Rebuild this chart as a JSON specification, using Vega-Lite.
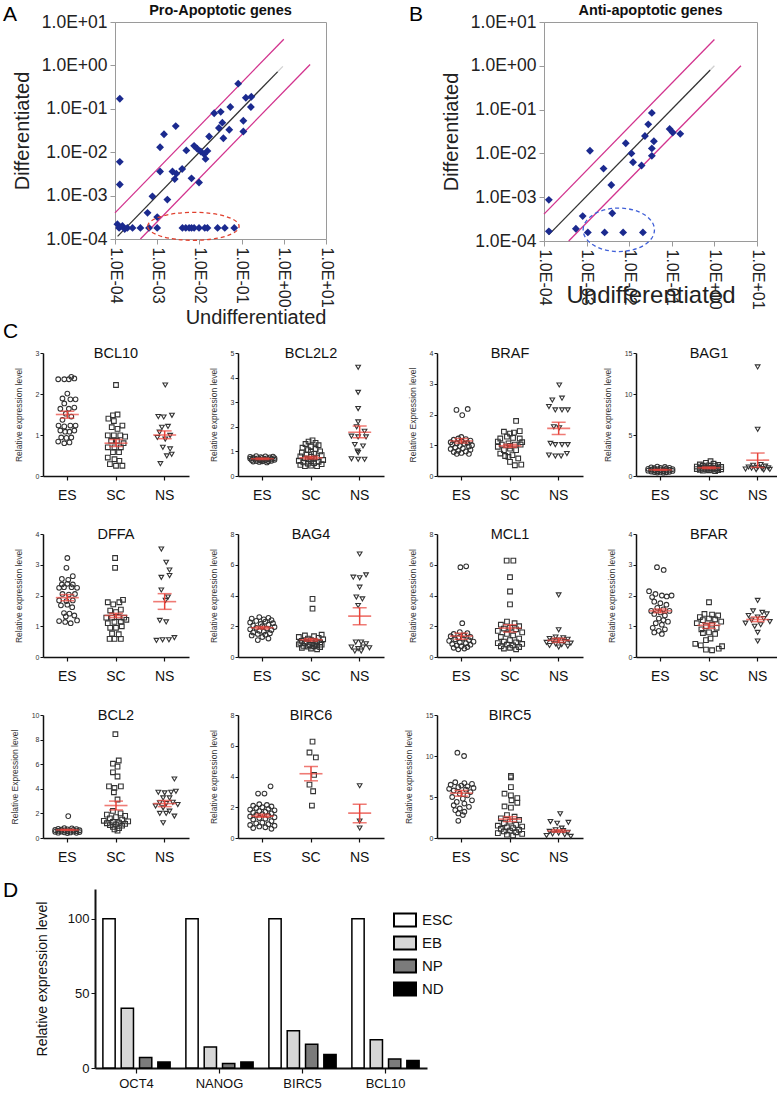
{
"$schema": "https://vega.github.io/schema/vega-lite/v6.json",
"padding": {"left": 3, "top": 2, "right": 2, "bottom": 1},
"background": "white",
"datasets": {
"a_pts": [
{"x":0.00013,"y":0.17},{"x":0.00013,"y":0.006},{"x":0.00013,"y":0.0018},
{"x":0.000114,"y":0.00022},{"x":0.000125,"y":0.00018},{"x":0.00015,"y":0.0002},{"x":0.00017,"y":0.00017},{"x":0.000196,"y":0.00018},{"x":0.00026,"y":0.00018},{"x":0.0004,"y":0.00018},{"x":0.00064,"y":0.00018},{"x":0.001,"y":0.00018},
{"x":0.00059,"y":0.0004},{"x":0.00077,"y":0.00096},{"x":0.001,"y":0.00032},{"x":0.00117,"y":0.013},{"x":0.00117,"y":0.0036},{"x":0.00145,"y":0.026},{"x":0.00174,"y":0.00081},{"x":0.0023,"y":0.0036},{"x":0.0026,"y":0.0024},{"x":0.00285,"y":0.0032},{"x":0.00275,"y":0.04},{"x":0.0039,"y":0.0041},{"x":0.0049,"y":0.011},{"x":0.0065,"y":0.0025},{"x":0.0075,"y":0.014},{"x":0.0089,"y":0.012},{"x":0.0098,"y":0.002},{"x":0.0108,"y":0.0104},{"x":0.013,"y":0.009},{"x":0.014,"y":0.007},{"x":0.0155,"y":0.0107},{"x":0.017,"y":0.023},{"x":0.0224,"y":0.079},{"x":0.032,"y":0.085},{"x":0.029,"y":0.036},{"x":0.035,"y":0.048},{"x":0.037,"y":0.021},{"x":0.054,"y":0.11},{"x":0.051,"y":0.033},{"x":0.083,"y":0.38},{"x":0.11,"y":0.053},{"x":0.11,"y":0.03},{"x":0.126,"y":0.18},{"x":0.166,"y":0.11},{"x":0.17,"y":0.19},
{"x":0.00396,"y":0.00018},{"x":0.00475,"y":0.00018},{"x":0.0057,"y":0.00018},{"x":0.0065,"y":0.00018},{"x":0.0075,"y":0.00018},{"x":0.0098,"y":0.00018},{"x":0.0134,"y":0.00018},{"x":0.0155,"y":0.00018},{"x":0.027,"y":0.00018},{"x":0.04,"y":0.00018},{"x":0.067,"y":0.00018}
],
"a_lines": [
{"x":0.0001,"y":0.0004,"k":"hi"},{"x":1,"y":4,"k":"hi"},
{"x":0.0004,"y":0.0001,"k":"lo"},{"x":4.2,"y":1.05,"k":"lo"},
{"x":0.000115,"y":0.000115,"k":"mid"},{"x":0.72,"y":0.72,"k":"mid"},
{"x":0.72,"y":0.72,"k":"ext"},{"x":0.95,"y":0.95,"k":"ext"}
],
"a_ell": [{"x":0.0072,"y":0.000196}],
"b_pts": [
{"x":0.00013,"y":0.00087},{"x":0.00013,"y":0.000166},{"x":0.00081,"y":0.00037},{"x":0.00056,"y":0.00019},{"x":0.00107,"y":0.000157},{"x":0.0012,"y":0.0115},{"x":0.0025,"y":0.0045},{"x":0.00265,"y":0.000157},{"x":0.0038,"y":0.0019},{"x":0.004,"y":0.00043},{"x":0.0072,"y":0.000157},{"x":0.0083,"y":0.017},{"x":0.0113,"y":0.01},{"x":0.0123,"y":0.0063},{"x":0.0195,"y":0.0053},{"x":0.021,"y":0.000157},{"x":0.0234,"y":0.025},{"x":0.028,"y":0.046},{"x":0.034,"y":0.084},{"x":0.034,"y":0.013},{"x":0.034,"y":0.0088},{"x":0.038,"y":0.019},{"x":0.089,"y":0.036},{"x":0.105,"y":0.03},{"x":0.158,"y":0.028}
],
"b_lines": [
{"x":0.0001,"y":0.00041,"k":"hi"},{"x":1,"y":4,"k":"hi"},
{"x":0.00038,"y":0.0001,"k":"lo"},{"x":4.2,"y":1.0,"k":"lo"},
{"x":0.00013,"y":0.00014,"k":"mid"},{"x":0.8,"y":0.8,"k":"mid"},
{"x":0.8,"y":0.8,"k":"ext"},{"x":1,"y":1,"k":"ext"}
],
"b_ell": [{"x":0.0057,"y":0.00018}],
"d": [
{"gene":"OCT4","cell":"ESC","val":100},{"gene":"OCT4","cell":"EB","val":40},{"gene":"OCT4","cell":"NP","val":7},{"gene":"OCT4","cell":"ND","val":4},
{"gene":"NANOG","cell":"ESC","val":100},{"gene":"NANOG","cell":"EB","val":14},{"gene":"NANOG","cell":"NP","val":3},{"gene":"NANOG","cell":"ND","val":4},
{"gene":"BIRC5","cell":"ESC","val":100},{"gene":"BIRC5","cell":"EB","val":25},{"gene":"BIRC5","cell":"NP","val":16},{"gene":"BIRC5","cell":"ND","val":9},
{"gene":"BCL10","cell":"ESC","val":100},{"gene":"BCL10","cell":"EB","val":19},{"gene":"BCL10","cell":"NP","val":6},{"gene":"BCL10","cell":"ND","val":5}
],
"c": [
{"g":"BCL10","s":"ES","v":2.36,"j":-3},{"g":"BCL10","s":"ES","v":2.36,"j":-1},{"g":"BCL10","s":"ES","v":2.36,"j":0.5},{"g":"BCL10","s":"ES","v":2.38,"j":2.3},{"g":"BCL10","s":"ES","v":2.42,"j":1.3},{"g":"BCL10","s":"ES","v":2.01,"j":0},{"g":"BCL10","s":"ES","v":1.89,"j":-1.6},{"g":"BCL10","s":"ES","v":1.87,"j":1},{"g":"BCL10","s":"ES","v":1.87,"j":2.7},{"g":"BCL10","s":"ES","v":1.77,"j":-1},{"g":"BCL10","s":"ES","v":1.64,"j":-2.3},{"g":"BCL10","s":"ES","v":1.64,"j":0.5},{"g":"BCL10","s":"ES","v":1.67,"j":2.3},{"g":"BCL10","s":"ES","v":1.52,"j":-0.5},{"g":"BCL10","s":"ES","v":1.45,"j":1.3},{"g":"BCL10","s":"ES","v":1.37,"j":-1.6},{"g":"BCL10","s":"ES","v":1.23,"j":-2.9},{"g":"BCL10","s":"ES","v":1.21,"j":-1},{"g":"BCL10","s":"ES","v":1.23,"j":1},{"g":"BCL10","s":"ES","v":1.23,"j":2.7},{"g":"BCL10","s":"ES","v":1.11,"j":-2.3},{"g":"BCL10","s":"ES","v":1.08,"j":-0.7},{"g":"BCL10","s":"ES","v":1.08,"j":0.7},{"g":"BCL10","s":"ES","v":1.11,"j":2.3},{"g":"BCL10","s":"ES","v":0.94,"j":-2},{"g":"BCL10","s":"ES","v":0.93,"j":-0.3},{"g":"BCL10","s":"ES","v":0.94,"j":1.3},{"g":"BCL10","s":"ES","v":0.84,"j":-3},{"g":"BCL10","s":"ES","v":0.8,"j":-1},{"g":"BCL10","s":"ES","v":0.82,"j":0.7},
{"g":"BCL10","s":"SC","v":2.22,"j":0},{"g":"BCL10","s":"SC","v":1.48,"j":-1},{"g":"BCL10","s":"SC","v":1.5,"j":0.5},{"g":"BCL10","s":"SC","v":1.4,"j":-2.5},{"g":"BCL10","s":"SC","v":1.34,"j":-0.7},{"g":"BCL10","s":"SC","v":1.19,"j":-1.4},{"g":"BCL10","s":"SC","v":1.23,"j":2.1},{"g":"BCL10","s":"SC","v":1.15,"j":0.5},{"g":"BCL10","s":"SC","v":0.99,"j":-2.7},{"g":"BCL10","s":"SC","v":0.99,"j":-0.7},{"g":"BCL10","s":"SC","v":0.99,"j":1.4},{"g":"BCL10","s":"SC","v":0.96,"j":3},{"g":"BCL10","s":"SC","v":0.86,"j":-1.6},{"g":"BCL10","s":"SC","v":0.86,"j":0.3},{"g":"BCL10","s":"SC","v":0.8,"j":2.5},{"g":"BCL10","s":"SC","v":0.7,"j":-2.7},{"g":"BCL10","s":"SC","v":0.7,"j":-0.5},{"g":"BCL10","s":"SC","v":0.7,"j":1.6},{"g":"BCL10","s":"SC","v":0.58,"j":-1},{"g":"BCL10","s":"SC","v":0.58,"j":1},{"g":"BCL10","s":"SC","v":0.45,"j":-2.7},{"g":"BCL10","s":"SC","v":0.41,"j":-0.5},{"g":"BCL10","s":"SC","v":0.37,"j":1.1},{"g":"BCL10","s":"SC","v":0.29,"j":-2},{"g":"BCL10","s":"SC","v":0.25,"j":0},{"g":"BCL10","s":"SC","v":0.25,"j":2.1},
{"g":"BCL10","s":"NS","v":2.22,"j":0.2},{"g":"BCL10","s":"NS","v":1.45,"j":-2.1},{"g":"BCL10","s":"NS","v":1.44,"j":-0.3},{"g":"BCL10","s":"NS","v":1.48,"j":2.4},{"g":"BCL10","s":"NS","v":1.19,"j":-0.9},{"g":"BCL10","s":"NS","v":1.21,"j":1.1},{"g":"BCL10","s":"NS","v":1.07,"j":-1.7},{"g":"BCL10","s":"NS","v":0.99,"j":1.8},{"g":"BCL10","s":"NS","v":0.94,"j":-2.4},{"g":"BCL10","s":"NS","v":0.9,"j":0.2},{"g":"BCL10","s":"NS","v":0.7,"j":-0.6},{"g":"BCL10","s":"NS","v":0.66,"j":1.8},{"g":"BCL10","s":"NS","v":0.49,"j":0.7},{"g":"BCL10","s":"NS","v":0.53,"j":2.3},{"g":"BCL10","s":"NS","v":0.3,"j":-1.4},
{"g":"BCL10","s":"ES","v":1.5,"lo":1.41,"hi":1.58},{"g":"BCL10","s":"SC","v":0.8,"lo":0.72,"hi":0.89},{"g":"BCL10","s":"NS","v":1.0,"lo":0.91,"hi":1.1},
{"g":"BCL2L2","s":"ES","v":0.81,"j":-2},{"g":"BCL2L2","s":"ES","v":0.8,"j":1},{"g":"BCL2L2","s":"ES","v":0.79,"j":3.5},{"g":"BCL2L2","s":"ES","v":0.78,"j":-4},{"g":"BCL2L2","s":"ES","v":0.77,"j":-0.5},{"g":"BCL2L2","s":"ES","v":0.76,"j":2.5},{"g":"BCL2L2","s":"ES","v":0.75,"j":-3},{"g":"BCL2L2","s":"ES","v":0.74,"j":0},{"g":"BCL2L2","s":"ES","v":0.73,"j":4},{"g":"BCL2L2","s":"ES","v":0.72,"j":-1.5},{"g":"BCL2L2","s":"ES","v":0.72,"j":1.5},{"g":"BCL2L2","s":"ES","v":0.71,"j":-4},{"g":"BCL2L2","s":"ES","v":0.7,"j":3},{"g":"BCL2L2","s":"ES","v":0.7,"j":-2.5},{"g":"BCL2L2","s":"ES","v":0.69,"j":0.5},{"g":"BCL2L2","s":"ES","v":0.68,"j":2},{"g":"BCL2L2","s":"ES","v":0.67,"j":-1},{"g":"BCL2L2","s":"ES","v":0.66,"j":4},{"g":"BCL2L2","s":"ES","v":0.65,"j":-3.5},{"g":"BCL2L2","s":"ES","v":0.64,"j":1},{"g":"BCL2L2","s":"ES","v":0.63,"j":-0.5},{"g":"BCL2L2","s":"ES","v":0.62,"j":3},{"g":"BCL2L2","s":"ES","v":0.61,"j":-2},{"g":"BCL2L2","s":"ES","v":0.6,"j":0},{"g":"BCL2L2","s":"ES","v":0.6,"j":2},{"g":"BCL2L2","s":"ES","v":0.59,"j":-3},{"g":"BCL2L2","s":"ES","v":0.57,"j":-1},{"g":"BCL2L2","s":"ES","v":0.55,"j":1.5},
{"g":"BCL2L2","s":"SC","v":1.45,"j":0.5},{"g":"BCL2L2","s":"SC","v":1.4,"j":-0.8},{"g":"BCL2L2","s":"SC","v":1.35,"j":1.5},{"g":"BCL2L2","s":"SC","v":1.3,"j":-1.8},{"g":"BCL2L2","s":"SC","v":1.25,"j":2.5},{"g":"BCL2L2","s":"SC","v":1.2,"j":0},{"g":"BCL2L2","s":"SC","v":1.15,"j":-2.8},{"g":"BCL2L2","s":"SC","v":1.1,"j":1.5},{"g":"BCL2L2","s":"SC","v":1.05,"j":-1},{"g":"BCL2L2","s":"SC","v":1.0,"j":3},{"g":"BCL2L2","s":"SC","v":0.98,"j":0},{"g":"BCL2L2","s":"SC","v":0.95,"j":-3},{"g":"BCL2L2","s":"SC","v":0.9,"j":1},{"g":"BCL2L2","s":"SC","v":0.88,"j":-1.5},{"g":"BCL2L2","s":"SC","v":0.85,"j":3.5},{"g":"BCL2L2","s":"SC","v":0.8,"j":-3.5},{"g":"BCL2L2","s":"SC","v":0.78,"j":0},{"g":"BCL2L2","s":"SC","v":0.75,"j":2},{"g":"BCL2L2","s":"SC","v":0.72,"j":-2},{"g":"BCL2L2","s":"SC","v":0.7,"j":1},{"g":"BCL2L2","s":"SC","v":0.68,"j":-1},{"g":"BCL2L2","s":"SC","v":0.65,"j":4},{"g":"BCL2L2","s":"SC","v":0.62,"j":-4},{"g":"BCL2L2","s":"SC","v":0.6,"j":0},{"g":"BCL2L2","s":"SC","v":0.58,"j":2.5},{"g":"BCL2L2","s":"SC","v":0.55,"j":-2.5},{"g":"BCL2L2","s":"SC","v":0.52,"j":1},{"g":"BCL2L2","s":"SC","v":0.5,"j":-1},{"g":"BCL2L2","s":"SC","v":0.48,"j":3.5},{"g":"BCL2L2","s":"SC","v":0.45,"j":-3.5},{"g":"BCL2L2","s":"SC","v":0.42,"j":0},{"g":"BCL2L2","s":"SC","v":0.4,"j":2},{"g":"BCL2L2","s":"SC","v":0.4,"j":-2},
{"g":"BCL2L2","s":"NS","v":4.42,"j":-0.5},{"g":"BCL2L2","s":"NS","v":3.4,"j":-0.5},{"g":"BCL2L2","s":"NS","v":2.74,"j":-0.5},{"g":"BCL2L2","s":"NS","v":2.2,"j":-0.5},{"g":"BCL2L2","s":"NS","v":2.0,"j":-1},{"g":"BCL2L2","s":"NS","v":1.82,"j":1.6},{"g":"BCL2L2","s":"NS","v":1.62,"j":-2.7},{"g":"BCL2L2","s":"NS","v":1.59,"j":-0.5},{"g":"BCL2L2","s":"NS","v":1.59,"j":2.1},{"g":"BCL2L2","s":"NS","v":1.28,"j":-1.6},{"g":"BCL2L2","s":"NS","v":1.22,"j":1.1},{"g":"BCL2L2","s":"NS","v":1.01,"j":-0.7},{"g":"BCL2L2","s":"NS","v":0.95,"j":-0.5},{"g":"BCL2L2","s":"NS","v":0.7,"j":-2.7},{"g":"BCL2L2","s":"NS","v":0.68,"j":-0.5},{"g":"BCL2L2","s":"NS","v":0.68,"j":1.6},
{"g":"BCL2L2","s":"ES","v":0.7,"lo":0.67,"hi":0.73},{"g":"BCL2L2","s":"SC","v":0.74,"lo":0.69,"hi":0.8},{"g":"BCL2L2","s":"NS","v":1.78,"lo":1.55,"hi":2.03},
{"g":"BRAF","s":"ES","v":2.15,"j":-1.6},{"g":"BRAF","s":"ES","v":1.98,"j":0.3},{"g":"BRAF","s":"ES","v":2.18,"j":2.1},{"g":"BRAF","s":"ES","v":1.27,"j":0},{"g":"BRAF","s":"ES","v":1.22,"j":-1},{"g":"BRAF","s":"ES","v":1.2,"j":1.5},{"g":"BRAF","s":"ES","v":1.18,"j":-2.5},{"g":"BRAF","s":"ES","v":1.15,"j":3},{"g":"BRAF","s":"ES","v":1.13,"j":0},{"g":"BRAF","s":"ES","v":1.1,"j":-3.5},{"g":"BRAF","s":"ES","v":1.08,"j":2},{"g":"BRAF","s":"ES","v":1.06,"j":-1.5},{"g":"BRAF","s":"ES","v":1.05,"j":1},{"g":"BRAF","s":"ES","v":1.03,"j":-3},{"g":"BRAF","s":"ES","v":1.0,"j":3.5},{"g":"BRAF","s":"ES","v":0.98,"j":-0.5},{"g":"BRAF","s":"ES","v":0.96,"j":2.5},{"g":"BRAF","s":"ES","v":0.93,"j":-2},{"g":"BRAF","s":"ES","v":0.9,"j":0.5},{"g":"BRAF","s":"ES","v":0.88,"j":-3.5},{"g":"BRAF","s":"ES","v":0.85,"j":3},{"g":"BRAF","s":"ES","v":0.82,"j":-1},{"g":"BRAF","s":"ES","v":0.8,"j":1.5},{"g":"BRAF","s":"ES","v":0.78,"j":-2.5},{"g":"BRAF","s":"ES","v":0.75,"j":0},{"g":"BRAF","s":"ES","v":0.72,"j":2.5},{"g":"BRAF","s":"ES","v":0.72,"j":-1.5},
{"g":"BRAF","s":"SC","v":1.79,"j":2},{"g":"BRAF","s":"SC","v":1.44,"j":-2},{"g":"BRAF","s":"SC","v":1.38,"j":0},{"g":"BRAF","s":"SC","v":1.41,"j":1.3},{"g":"BRAF","s":"SC","v":1.46,"j":3.2},{"g":"BRAF","s":"SC","v":1.22,"j":-3.2},{"g":"BRAF","s":"SC","v":1.28,"j":-1},{"g":"BRAF","s":"SC","v":1.24,"j":1},{"g":"BRAF","s":"SC","v":1.22,"j":3.2},{"g":"BRAF","s":"SC","v":1.02,"j":-2.7},{"g":"BRAF","s":"SC","v":1.06,"j":-0.5},{"g":"BRAF","s":"SC","v":1.02,"j":1.6},{"g":"BRAF","s":"SC","v":1.02,"j":3.5},{"g":"BRAF","s":"SC","v":0.98,"j":0},{"g":"BRAF","s":"SC","v":0.84,"j":-2},{"g":"BRAF","s":"SC","v":0.89,"j":0},{"g":"BRAF","s":"SC","v":0.84,"j":2},{"g":"BRAF","s":"SC","v":0.73,"j":-3.2},{"g":"BRAF","s":"SC","v":0.65,"j":-1.6},{"g":"BRAF","s":"SC","v":0.68,"j":0.8},{"g":"BRAF","s":"SC","v":0.62,"j":-0.5},{"g":"BRAF","s":"SC","v":0.57,"j":2.7},{"g":"BRAF","s":"SC","v":0.46,"j":0},{"g":"BRAF","s":"SC","v":0.35,"j":1.6},{"g":"BRAF","s":"SC","v":0.37,"j":3.7},{"g":"BRAF","s":"SC","v":1.12,"j":-4},{"g":"BRAF","s":"SC","v":1.1,"j":4},{"g":"BRAF","s":"SC","v":0.95,"j":-4},
{"g":"BRAF","s":"NS","v":2.96,"j":0.2},{"g":"BRAF","s":"NS","v":2.47,"j":-2.1},{"g":"BRAF","s":"NS","v":2.53,"j":1.1},{"g":"BRAF","s":"NS","v":2.26,"j":-3.2},{"g":"BRAF","s":"NS","v":2.15,"j":-1.1},{"g":"BRAF","s":"NS","v":2.15,"j":1.1},{"g":"BRAF","s":"NS","v":2.15,"j":3},{"g":"BRAF","s":"NS","v":1.6,"j":-1.6},{"g":"BRAF","s":"NS","v":1.57,"j":0.2},{"g":"BRAF","s":"NS","v":1.06,"j":-2.7},{"g":"BRAF","s":"NS","v":1.02,"j":-1.1},{"g":"BRAF","s":"NS","v":1.02,"j":1.1},{"g":"BRAF","s":"NS","v":1.02,"j":3},{"g":"BRAF","s":"NS","v":0.68,"j":-3.2},{"g":"BRAF","s":"NS","v":0.65,"j":-1.1},{"g":"BRAF","s":"NS","v":0.65,"j":0.8},{"g":"BRAF","s":"NS","v":0.73,"j":2.7},
{"g":"BRAF","s":"ES","v":1.14,"lo":1.07,"hi":1.22},{"g":"BRAF","s":"SC","v":0.98,"lo":0.93,"hi":1.03},{"g":"BRAF","s":"NS","v":1.55,"lo":1.35,"hi":1.75},
{"g":"BAG1","s":"ES","v":1.15,"j":-1},{"g":"BAG1","s":"ES","v":1.1,"j":1.5},{"g":"BAG1","s":"ES","v":1.05,"j":-3},{"g":"BAG1","s":"ES","v":1.0,"j":3},{"g":"BAG1","s":"ES","v":0.98,"j":0},{"g":"BAG1","s":"ES","v":0.95,"j":-2},{"g":"BAG1","s":"ES","v":0.9,"j":2},{"g":"BAG1","s":"ES","v":0.88,"j":-4},{"g":"BAG1","s":"ES","v":0.85,"j":4},{"g":"BAG1","s":"ES","v":0.82,"j":-1},{"g":"BAG1","s":"ES","v":0.8,"j":1},{"g":"BAG1","s":"ES","v":0.78,"j":-3},{"g":"BAG1","s":"ES","v":0.75,"j":3},{"g":"BAG1","s":"ES","v":0.72,"j":0},{"g":"BAG1","s":"ES","v":0.7,"j":-2},{"g":"BAG1","s":"ES","v":0.68,"j":2},{"g":"BAG1","s":"ES","v":0.65,"j":-4},{"g":"BAG1","s":"ES","v":0.62,"j":4},{"g":"BAG1","s":"ES","v":0.6,"j":-1},{"g":"BAG1","s":"ES","v":0.58,"j":1},{"g":"BAG1","s":"ES","v":0.55,"j":-3},{"g":"BAG1","s":"ES","v":0.52,"j":3},{"g":"BAG1","s":"ES","v":0.5,"j":0},{"g":"BAG1","s":"ES","v":0.48,"j":-2},{"g":"BAG1","s":"ES","v":0.45,"j":2},{"g":"BAG1","s":"ES","v":0.42,"j":-1},{"g":"BAG1","s":"ES","v":0.4,"j":1},
{"g":"BAG1","s":"SC","v":1.8,"j":0.5},{"g":"BAG1","s":"SC","v":1.6,"j":-1},{"g":"BAG1","s":"SC","v":1.5,"j":1.5},{"g":"BAG1","s":"SC","v":1.4,"j":-3},{"g":"BAG1","s":"SC","v":1.35,"j":3},{"g":"BAG1","s":"SC","v":1.3,"j":0},{"g":"BAG1","s":"SC","v":1.25,"j":-2},{"g":"BAG1","s":"SC","v":1.2,"j":2},{"g":"BAG1","s":"SC","v":1.15,"j":-4},{"g":"BAG1","s":"SC","v":1.1,"j":4},{"g":"BAG1","s":"SC","v":1.05,"j":-1},{"g":"BAG1","s":"SC","v":1.0,"j":1},{"g":"BAG1","s":"SC","v":0.98,"j":-3},{"g":"BAG1","s":"SC","v":0.95,"j":3},{"g":"BAG1","s":"SC","v":0.92,"j":0},{"g":"BAG1","s":"SC","v":0.9,"j":-2},{"g":"BAG1","s":"SC","v":0.88,"j":2},{"g":"BAG1","s":"SC","v":0.85,"j":-4},{"g":"BAG1","s":"SC","v":0.82,"j":4},{"g":"BAG1","s":"SC","v":0.8,"j":-1},{"g":"BAG1","s":"SC","v":0.78,"j":1},{"g":"BAG1","s":"SC","v":0.75,"j":-3},{"g":"BAG1","s":"SC","v":0.72,"j":3},{"g":"BAG1","s":"SC","v":0.7,"j":0},{"g":"BAG1","s":"SC","v":0.65,"j":-2},{"g":"BAG1","s":"SC","v":0.6,"j":2},
{"g":"BAG1","s":"NS","v":13.3,"j":0},{"g":"BAG1","s":"NS","v":5.7,"j":0},{"g":"BAG1","s":"NS","v":1.4,"j":1},{"g":"BAG1","s":"NS","v":1.3,"j":-1.5},{"g":"BAG1","s":"NS","v":1.2,"j":2.5},{"g":"BAG1","s":"NS","v":1.1,"j":-3},{"g":"BAG1","s":"NS","v":1.05,"j":0},{"g":"BAG1","s":"NS","v":1.0,"j":3.5},{"g":"BAG1","s":"NS","v":0.95,"j":-2},{"g":"BAG1","s":"NS","v":0.9,"j":1.5},{"g":"BAG1","s":"NS","v":0.85,"j":-4},{"g":"BAG1","s":"NS","v":0.8,"j":4},{"g":"BAG1","s":"NS","v":0.78,"j":-0.5},{"g":"BAG1","s":"NS","v":0.75,"j":2},
{"g":"BAG1","s":"ES","v":0.75,"lo":0.7,"hi":0.8},{"g":"BAG1","s":"SC","v":1.0,"lo":0.9,"hi":1.1},{"g":"BAG1","s":"NS","v":1.93,"lo":1.05,"hi":2.8},
{"g":"DFFA","s":"ES","v":3.22,"j":0},{"g":"DFFA","s":"ES","v":2.9,"j":-0.3},{"g":"DFFA","s":"ES","v":2.63,"j":1.8},{"g":"DFFA","s":"ES","v":2.54,"j":-1.8},{"g":"DFFA","s":"ES","v":2.51,"j":0.3},{"g":"DFFA","s":"ES","v":2.36,"j":-1.8},{"g":"DFFA","s":"ES","v":2.38,"j":0},{"g":"DFFA","s":"ES","v":2.36,"j":1.8},{"g":"DFFA","s":"ES","v":2.25,"j":-2.7},{"g":"DFFA","s":"ES","v":2.27,"j":-1.1},{"g":"DFFA","s":"ES","v":2.27,"j":1.4},{"g":"DFFA","s":"ES","v":2.25,"j":3.2},{"g":"DFFA","s":"ES","v":2.05,"j":-1.6},{"g":"DFFA","s":"ES","v":2.03,"j":0.5},{"g":"DFFA","s":"ES","v":2.05,"j":2.5},{"g":"DFFA","s":"ES","v":1.84,"j":-2.7},{"g":"DFFA","s":"ES","v":1.82,"j":-0.3},{"g":"DFFA","s":"ES","v":1.84,"j":1.8},{"g":"DFFA","s":"ES","v":1.68,"j":-2.1},{"g":"DFFA","s":"ES","v":1.7,"j":0},{"g":"DFFA","s":"ES","v":1.62,"j":1.6},{"g":"DFFA","s":"ES","v":1.43,"j":-1.1},{"g":"DFFA","s":"ES","v":1.41,"j":0.7},{"g":"DFFA","s":"ES","v":1.32,"j":-0.5},{"g":"DFFA","s":"ES","v":1.35,"j":2.3},{"g":"DFFA","s":"ES","v":1.17,"j":-2.7},{"g":"DFFA","s":"ES","v":1.14,"j":-0.7},{"g":"DFFA","s":"ES","v":1.1,"j":1.1},{"g":"DFFA","s":"ES","v":1.19,"j":3.2},
{"g":"DFFA","s":"SC","v":3.22,"j":-0.3},{"g":"DFFA","s":"SC","v":2.9,"j":-0.3},{"g":"DFFA","s":"SC","v":1.78,"j":-2.7},{"g":"DFFA","s":"SC","v":1.71,"j":-0.9},{"g":"DFFA","s":"SC","v":1.78,"j":1.1},{"g":"DFFA","s":"SC","v":1.86,"j":2.3},{"g":"DFFA","s":"SC","v":1.51,"j":-1.9},{"g":"DFFA","s":"SC","v":1.46,"j":0},{"g":"DFFA","s":"SC","v":1.54,"j":1.6},{"g":"DFFA","s":"SC","v":1.28,"j":-3.2},{"g":"DFFA","s":"SC","v":1.28,"j":-1.3},{"g":"DFFA","s":"SC","v":1.3,"j":0.9},{"g":"DFFA","s":"SC","v":1.28,"j":2.7},{"g":"DFFA","s":"SC","v":1.1,"j":-2.7},{"g":"DFFA","s":"SC","v":1.14,"j":-0.5},{"g":"DFFA","s":"SC","v":1.14,"j":1.6},{"g":"DFFA","s":"SC","v":1.21,"j":3.4},{"g":"DFFA","s":"SC","v":0.95,"j":-1.9},{"g":"DFFA","s":"SC","v":0.95,"j":0},{"g":"DFFA","s":"SC","v":1.0,"j":1.9},{"g":"DFFA","s":"SC","v":0.76,"j":-1.3},{"g":"DFFA","s":"SC","v":0.74,"j":0.9},{"g":"DFFA","s":"SC","v":0.59,"j":-2.1},{"g":"DFFA","s":"SC","v":0.59,"j":-0.5},{"g":"DFFA","s":"SC","v":0.59,"j":1.6},
{"g":"DFFA","s":"NS","v":3.51,"j":-1.1},{"g":"DFFA","s":"NS","v":3.08,"j":0.5},{"g":"DFFA","s":"NS","v":2.83,"j":1.6},{"g":"DFFA","s":"NS","v":2.59,"j":-1.1},{"g":"DFFA","s":"NS","v":2.65,"j":1.6},{"g":"DFFA","s":"NS","v":2.18,"j":-1.1},{"g":"DFFA","s":"NS","v":1.95,"j":1.1},{"g":"DFFA","s":"NS","v":1.84,"j":0.3},{"g":"DFFA","s":"NS","v":1.19,"j":-1.6},{"g":"DFFA","s":"NS","v":1.14,"j":0.5},{"g":"DFFA","s":"NS","v":0.54,"j":-2.7},{"g":"DFFA","s":"NS","v":0.56,"j":-0.7},{"g":"DFFA","s":"NS","v":0.56,"j":1.4},{"g":"DFFA","s":"NS","v":0.63,"j":3.2},
{"g":"DFFA","s":"ES","v":1.93,"lo":1.83,"hi":2.03},{"g":"DFFA","s":"SC","v":1.35,"lo":1.28,"hi":1.42},{"g":"DFFA","s":"NS","v":1.8,"lo":1.55,"hi":2.06},
{"g":"BAG4","s":"ES","v":2.6,"j":-1},{"g":"BAG4","s":"ES","v":2.55,"j":2},{"g":"BAG4","s":"ES","v":2.5,"j":-3.5},{"g":"BAG4","s":"ES","v":2.45,"j":0.5},{"g":"BAG4","s":"ES","v":2.4,"j":3},{"g":"BAG4","s":"ES","v":2.35,"j":-2},{"g":"BAG4","s":"ES","v":2.3,"j":1},{"g":"BAG4","s":"ES","v":2.25,"j":-4},{"g":"BAG4","s":"ES","v":2.2,"j":3.5},{"g":"BAG4","s":"ES","v":2.15,"j":-0.5},{"g":"BAG4","s":"ES","v":2.1,"j":2},{"g":"BAG4","s":"ES","v":2.05,"j":-3},{"g":"BAG4","s":"ES","v":2.0,"j":0},{"g":"BAG4","s":"ES","v":1.95,"j":4},{"g":"BAG4","s":"ES","v":1.9,"j":-2},{"g":"BAG4","s":"ES","v":1.85,"j":1.5},{"g":"BAG4","s":"ES","v":1.8,"j":-4},{"g":"BAG4","s":"ES","v":1.75,"j":3},{"g":"BAG4","s":"ES","v":1.7,"j":-1},{"g":"BAG4","s":"ES","v":1.65,"j":0.5},{"g":"BAG4","s":"ES","v":1.6,"j":-3},{"g":"BAG4","s":"ES","v":1.55,"j":2.5},{"g":"BAG4","s":"ES","v":1.5,"j":-1.5},{"g":"BAG4","s":"ES","v":1.45,"j":1},{"g":"BAG4","s":"ES","v":1.4,"j":-3.5},{"g":"BAG4","s":"ES","v":1.3,"j":0},{"g":"BAG4","s":"ES","v":1.2,"j":2},{"g":"BAG4","s":"ES","v":1.1,"j":-1.5},
{"g":"BAG4","s":"SC","v":3.78,"j":0.5},{"g":"BAG4","s":"SC","v":3.14,"j":0.5},{"g":"BAG4","s":"SC","v":1.45,"j":3.5},{"g":"BAG4","s":"SC","v":1.4,"j":-2},{"g":"BAG4","s":"SC","v":1.35,"j":1},{"g":"BAG4","s":"SC","v":1.3,"j":-4},{"g":"BAG4","s":"SC","v":1.25,"j":2.5},{"g":"BAG4","s":"SC","v":1.2,"j":-1},{"g":"BAG4","s":"SC","v":1.15,"j":4},{"g":"BAG4","s":"SC","v":1.1,"j":0},{"g":"BAG4","s":"SC","v":1.05,"j":-3},{"g":"BAG4","s":"SC","v":1.0,"j":2},{"g":"BAG4","s":"SC","v":0.98,"j":-1.5},{"g":"BAG4","s":"SC","v":0.95,"j":3},{"g":"BAG4","s":"SC","v":0.92,"j":-3.5},{"g":"BAG4","s":"SC","v":0.9,"j":0.5},{"g":"BAG4","s":"SC","v":0.88,"j":-2},{"g":"BAG4","s":"SC","v":0.85,"j":1.5},{"g":"BAG4","s":"SC","v":0.82,"j":-4},{"g":"BAG4","s":"SC","v":0.8,"j":3.5},{"g":"BAG4","s":"SC","v":0.78,"j":-0.5},{"g":"BAG4","s":"SC","v":0.75,"j":2},{"g":"BAG4","s":"SC","v":0.72,"j":-2.5},{"g":"BAG4","s":"SC","v":0.7,"j":1},{"g":"BAG4","s":"SC","v":0.68,"j":-1},{"g":"BAG4","s":"SC","v":0.65,"j":3},{"g":"BAG4","s":"SC","v":0.6,"j":-3},{"g":"BAG4","s":"SC","v":0.55,"j":0},{"g":"BAG4","s":"SC","v":0.5,"j":2},
{"g":"BAG4","s":"NS","v":6.7,"j":0},{"g":"BAG4","s":"NS","v":5.19,"j":-2.1},{"g":"BAG4","s":"NS","v":5.15,"j":0},{"g":"BAG4","s":"NS","v":5.34,"j":2.1},{"g":"BAG4","s":"NS","v":4.54,"j":0},{"g":"BAG4","s":"NS","v":3.9,"j":-1.1},{"g":"BAG4","s":"NS","v":3.78,"j":0.9},{"g":"BAG4","s":"NS","v":3.35,"j":-0.5},{"g":"BAG4","s":"NS","v":0.97,"j":-1.3},{"g":"BAG4","s":"NS","v":0.97,"j":0.5},{"g":"BAG4","s":"NS","v":0.86,"j":2.1},{"g":"BAG4","s":"NS","v":0.65,"j":-2.7},{"g":"BAG4","s":"NS","v":0.54,"j":-0.5},{"g":"BAG4","s":"NS","v":0.65,"j":1.1},{"g":"BAG4","s":"NS","v":0.6,"j":3.2},{"g":"BAG4","s":"NS","v":0.39,"j":-1.6},{"g":"BAG4","s":"NS","v":0.39,"j":0.5},
{"g":"BAG4","s":"ES","v":1.9,"lo":1.82,"hi":1.98},{"g":"BAG4","s":"SC","v":1.12,"lo":1.03,"hi":1.2},{"g":"BAG4","s":"NS","v":2.66,"lo":2.1,"hi":3.2},
{"g":"MCL1","s":"ES","v":5.84,"j":-0.3},{"g":"MCL1","s":"ES","v":5.9,"j":1.6},{"g":"MCL1","s":"ES","v":2.2,"j":0.3},{"g":"MCL1","s":"ES","v":1.62,"j":-0.5},{"g":"MCL1","s":"ES","v":1.55,"j":2},{"g":"MCL1","s":"ES","v":1.5,"j":-2.5},{"g":"MCL1","s":"ES","v":1.4,"j":1},{"g":"MCL1","s":"ES","v":1.35,"j":-3.5},{"g":"MCL1","s":"ES","v":1.3,"j":3},{"g":"MCL1","s":"ES","v":1.25,"j":-1},{"g":"MCL1","s":"ES","v":1.2,"j":0.5},{"g":"MCL1","s":"ES","v":1.15,"j":-2},{"g":"MCL1","s":"ES","v":1.1,"j":2.5},{"g":"MCL1","s":"ES","v":1.05,"j":-4},{"g":"MCL1","s":"ES","v":1.0,"j":4},{"g":"MCL1","s":"ES","v":0.95,"j":-0.5},{"g":"MCL1","s":"ES","v":0.9,"j":1.5},{"g":"MCL1","s":"ES","v":0.85,"j":-3},{"g":"MCL1","s":"ES","v":0.8,"j":3},{"g":"MCL1","s":"ES","v":0.75,"j":-1.5},{"g":"MCL1","s":"ES","v":0.7,"j":0},{"g":"MCL1","s":"ES","v":0.65,"j":2},{"g":"MCL1","s":"ES","v":0.6,"j":-2.5},{"g":"MCL1","s":"ES","v":0.55,"j":1},{"g":"MCL1","s":"ES","v":0.5,"j":-1},
{"g":"MCL1","s":"SC","v":6.27,"j":-1.1},{"g":"MCL1","s":"SC","v":6.27,"j":1.1},{"g":"MCL1","s":"SC","v":5.19,"j":0},{"g":"MCL1","s":"SC","v":4.26,"j":0},{"g":"MCL1","s":"SC","v":3.42,"j":0},{"g":"MCL1","s":"SC","v":2.3,"j":-1},{"g":"MCL1","s":"SC","v":2.2,"j":1.5},{"g":"MCL1","s":"SC","v":2.1,"j":-3},{"g":"MCL1","s":"SC","v":2.0,"j":3},{"g":"MCL1","s":"SC","v":1.9,"j":0},{"g":"MCL1","s":"SC","v":1.85,"j":-2},{"g":"MCL1","s":"SC","v":1.8,"j":2},{"g":"MCL1","s":"SC","v":1.7,"j":-4},{"g":"MCL1","s":"SC","v":1.6,"j":4},{"g":"MCL1","s":"SC","v":1.5,"j":-1},{"g":"MCL1","s":"SC","v":1.4,"j":1},{"g":"MCL1","s":"SC","v":1.3,"j":-3},{"g":"MCL1","s":"SC","v":1.2,"j":3},{"g":"MCL1","s":"SC","v":1.1,"j":0},{"g":"MCL1","s":"SC","v":1.0,"j":-2},{"g":"MCL1","s":"SC","v":0.95,"j":2},{"g":"MCL1","s":"SC","v":0.9,"j":-4},{"g":"MCL1","s":"SC","v":0.85,"j":4},{"g":"MCL1","s":"SC","v":0.8,"j":-1},{"g":"MCL1","s":"SC","v":0.75,"j":1},{"g":"MCL1","s":"SC","v":0.7,"j":-3},{"g":"MCL1","s":"SC","v":0.65,"j":3},{"g":"MCL1","s":"SC","v":0.6,"j":0},{"g":"MCL1","s":"SC","v":0.55,"j":-2},{"g":"MCL1","s":"SC","v":0.5,"j":2},
{"g":"MCL1","s":"NS","v":4.04,"j":0},{"g":"MCL1","s":"NS","v":1.77,"j":0},{"g":"MCL1","s":"NS","v":1.3,"j":-1},{"g":"MCL1","s":"NS","v":1.25,"j":1.5},{"g":"MCL1","s":"NS","v":1.2,"j":-3},{"g":"MCL1","s":"NS","v":1.15,"j":3},{"g":"MCL1","s":"NS","v":1.1,"j":0},{"g":"MCL1","s":"NS","v":1.05,"j":-2},{"g":"MCL1","s":"NS","v":1.0,"j":2},{"g":"MCL1","s":"NS","v":0.95,"j":-4},{"g":"MCL1","s":"NS","v":0.9,"j":4},{"g":"MCL1","s":"NS","v":0.85,"j":-1},{"g":"MCL1","s":"NS","v":0.8,"j":1},{"g":"MCL1","s":"NS","v":0.75,"j":-3},{"g":"MCL1","s":"NS","v":0.7,"j":3},{"g":"MCL1","s":"NS","v":0.65,"j":0},
{"g":"MCL1","s":"ES","v":1.36,"lo":1.15,"hi":1.55},{"g":"MCL1","s":"SC","v":1.88,"lo":1.62,"hi":2.1},{"g":"MCL1","s":"NS","v":1.08,"lo":0.95,"hi":1.22},
{"g":"BFAR","s":"ES","v":2.92,"j":-1.1},{"g":"BFAR","s":"ES","v":2.83,"j":1.1},{"g":"BFAR","s":"ES","v":2.14,"j":-3.7},{"g":"BFAR","s":"ES","v":2.05,"j":-1.6},{"g":"BFAR","s":"ES","v":2.0,"j":0.5},{"g":"BFAR","s":"ES","v":1.97,"j":2.1},{"g":"BFAR","s":"ES","v":2.0,"j":3.7},{"g":"BFAR","s":"ES","v":1.95,"j":-2.7},{"g":"BFAR","s":"ES","v":1.8,"j":-2},{"g":"BFAR","s":"ES","v":1.75,"j":0},{"g":"BFAR","s":"ES","v":1.7,"j":2},{"g":"BFAR","s":"ES","v":1.6,"j":-1},{"g":"BFAR","s":"ES","v":1.55,"j":1},{"g":"BFAR","s":"ES","v":1.5,"j":-3},{"g":"BFAR","s":"ES","v":1.5,"j":3},{"g":"BFAR","s":"ES","v":1.45,"j":0},{"g":"BFAR","s":"ES","v":1.4,"j":-2},{"g":"BFAR","s":"ES","v":1.35,"j":1.5},{"g":"BFAR","s":"ES","v":1.25,"j":-0.5},{"g":"BFAR","s":"ES","v":1.2,"j":1},{"g":"BFAR","s":"ES","v":1.15,"j":2.5},{"g":"BFAR","s":"ES","v":1.1,"j":-1.5},{"g":"BFAR","s":"ES","v":1.05,"j":0.5},{"g":"BFAR","s":"ES","v":0.95,"j":-2.5},{"g":"BFAR","s":"ES","v":0.9,"j":1.5},{"g":"BFAR","s":"ES","v":0.85,"j":-0.5},{"g":"BFAR","s":"ES","v":0.8,"j":-2},{"g":"BFAR","s":"ES","v":0.75,"j":0.5},
{"g":"BFAR","s":"SC","v":1.78,"j":0},{"g":"BFAR","s":"SC","v":1.4,"j":-1.5},{"g":"BFAR","s":"SC","v":1.38,"j":1},{"g":"BFAR","s":"SC","v":1.35,"j":3},{"g":"BFAR","s":"SC","v":1.3,"j":-3},{"g":"BFAR","s":"SC","v":1.25,"j":0},{"g":"BFAR","s":"SC","v":1.22,"j":2},{"g":"BFAR","s":"SC","v":1.2,"j":-2},{"g":"BFAR","s":"SC","v":1.15,"j":4},{"g":"BFAR","s":"SC","v":1.1,"j":-4},{"g":"BFAR","s":"SC","v":1.05,"j":1},{"g":"BFAR","s":"SC","v":1.0,"j":-1},{"g":"BFAR","s":"SC","v":0.95,"j":2.5},{"g":"BFAR","s":"SC","v":0.9,"j":-2.5},{"g":"BFAR","s":"SC","v":0.8,"j":0},{"g":"BFAR","s":"SC","v":0.78,"j":-2},{"g":"BFAR","s":"SC","v":0.75,"j":2},{"g":"BFAR","s":"SC","v":0.6,"j":0.5},{"g":"BFAR","s":"SC","v":0.55,"j":-1},{"g":"BFAR","s":"SC","v":0.43,"j":-4.5},{"g":"BFAR","s":"SC","v":0.38,"j":-2.7},{"g":"BFAR","s":"SC","v":0.24,"j":-1},{"g":"BFAR","s":"SC","v":0.22,"j":1},{"g":"BFAR","s":"SC","v":0.27,"j":3.2},{"g":"BFAR","s":"SC","v":0.35,"j":4.3},
{"g":"BFAR","s":"NS","v":1.84,"j":0},{"g":"BFAR","s":"NS","v":1.5,"j":-1.5},{"g":"BFAR","s":"NS","v":1.45,"j":1.5},{"g":"BFAR","s":"NS","v":1.4,"j":3},{"g":"BFAR","s":"NS","v":1.35,"j":-3},{"g":"BFAR","s":"NS","v":1.3,"j":0},{"g":"BFAR","s":"NS","v":1.25,"j":2},{"g":"BFAR","s":"NS","v":1.2,"j":-2},{"g":"BFAR","s":"NS","v":1.15,"j":4},{"g":"BFAR","s":"NS","v":1.1,"j":-4},{"g":"BFAR","s":"NS","v":1.05,"j":1},{"g":"BFAR","s":"NS","v":1.0,"j":-1},{"g":"BFAR","s":"NS","v":0.8,"j":0},{"g":"BFAR","s":"NS","v":0.52,"j":0},
{"g":"BFAR","s":"ES","v":1.5,"lo":1.44,"hi":1.56},{"g":"BFAR","s":"SC","v":1.03,"lo":0.93,"hi":1.1},{"g":"BFAR","s":"NS","v":1.22,"lo":1.15,"hi":1.3},
{"g":"BCL2","s":"ES","v":1.78,"j":0.3},{"g":"BCL2","s":"ES","v":0.8,"j":-1},{"g":"BCL2","s":"ES","v":0.78,"j":1.5},{"g":"BCL2","s":"ES","v":0.75,"j":-3},{"g":"BCL2","s":"ES","v":0.72,"j":3},{"g":"BCL2","s":"ES","v":0.7,"j":0},{"g":"BCL2","s":"ES","v":0.68,"j":-2},{"g":"BCL2","s":"ES","v":0.66,"j":2},{"g":"BCL2","s":"ES","v":0.65,"j":-4},{"g":"BCL2","s":"ES","v":0.63,"j":4},{"g":"BCL2","s":"ES","v":0.62,"j":-1},{"g":"BCL2","s":"ES","v":0.6,"j":1},{"g":"BCL2","s":"ES","v":0.58,"j":-3},{"g":"BCL2","s":"ES","v":0.56,"j":3},{"g":"BCL2","s":"ES","v":0.55,"j":0},{"g":"BCL2","s":"ES","v":0.53,"j":-2},{"g":"BCL2","s":"ES","v":0.52,"j":2},{"g":"BCL2","s":"ES","v":0.5,"j":-4},{"g":"BCL2","s":"ES","v":0.48,"j":4},{"g":"BCL2","s":"ES","v":0.46,"j":-1},{"g":"BCL2","s":"ES","v":0.45,"j":1},{"g":"BCL2","s":"ES","v":0.43,"j":-3},{"g":"BCL2","s":"ES","v":0.42,"j":3},{"g":"BCL2","s":"ES","v":0.4,"j":0},
{"g":"BCL2","s":"SC","v":8.44,"j":-0.2},{"g":"BCL2","s":"SC","v":6.3,"j":0.9},{"g":"BCL2","s":"SC","v":6.04,"j":-1},{"g":"BCL2","s":"SC","v":5.8,"j":0.5},{"g":"BCL2","s":"SC","v":5.34,"j":-1},{"g":"BCL2","s":"SC","v":5.0,"j":0.5},{"g":"BCL2","s":"SC","v":4.2,"j":-2.3},{"g":"BCL2","s":"SC","v":4.07,"j":-0.5},{"g":"BCL2","s":"SC","v":4.2,"j":1.6},{"g":"BCL2","s":"SC","v":3.72,"j":-0.7},{"g":"BCL2","s":"SC","v":3.13,"j":0.5},{"g":"BCL2","s":"SC","v":2.2,"j":-1},{"g":"BCL2","s":"SC","v":2.0,"j":1.5},{"g":"BCL2","s":"SC","v":1.9,"j":-3},{"g":"BCL2","s":"SC","v":1.8,"j":3},{"g":"BCL2","s":"SC","v":1.7,"j":0},{"g":"BCL2","s":"SC","v":1.6,"j":-2},{"g":"BCL2","s":"SC","v":1.5,"j":2},{"g":"BCL2","s":"SC","v":1.4,"j":-4},{"g":"BCL2","s":"SC","v":1.35,"j":4},{"g":"BCL2","s":"SC","v":1.3,"j":-1},{"g":"BCL2","s":"SC","v":1.25,"j":1},{"g":"BCL2","s":"SC","v":1.2,"j":-3},{"g":"BCL2","s":"SC","v":1.15,"j":3},{"g":"BCL2","s":"SC","v":1.1,"j":0},{"g":"BCL2","s":"SC","v":1.05,"j":-2},{"g":"BCL2","s":"SC","v":1.0,"j":2},{"g":"BCL2","s":"SC","v":0.9,"j":-1},{"g":"BCL2","s":"SC","v":0.8,"j":1},{"g":"BCL2","s":"SC","v":0.7,"j":-0.5},{"g":"BCL2","s":"SC","v":0.6,"j":0.5},
{"g":"BCL2","s":"NS","v":4.8,"j":3.2},{"g":"BCL2","s":"NS","v":3.72,"j":-2.1},{"g":"BCL2","s":"NS","v":3.67,"j":0},{"g":"BCL2","s":"NS","v":3.72,"j":2.1},{"g":"BCL2","s":"NS","v":3.8,"j":3.7},{"g":"BCL2","s":"NS","v":3.26,"j":-0.5},{"g":"BCL2","s":"NS","v":3.26,"j":1.6},{"g":"BCL2","s":"NS","v":2.86,"j":-1.6},{"g":"BCL2","s":"NS","v":2.8,"j":0.5},{"g":"BCL2","s":"NS","v":2.9,"j":2.7},{"g":"BCL2","s":"NS","v":2.72,"j":4.3},{"g":"BCL2","s":"NS","v":2.45,"j":-0.5},{"g":"BCL2","s":"NS","v":2.18,"j":1.6},{"g":"BCL2","s":"NS","v":2.0,"j":-1.6},{"g":"BCL2","s":"NS","v":2.0,"j":0.5},{"g":"BCL2","s":"NS","v":1.78,"j":3.2},{"g":"BCL2","s":"NS","v":1.24,"j":-0.5},{"g":"BCL2","s":"NS","v":2.6,"j":-3},
{"g":"BCL2","s":"ES","v":0.65,"lo":0.62,"hi":0.7},{"g":"BCL2","s":"SC","v":2.64,"lo":2.28,"hi":3.0},{"g":"BCL2","s":"NS","v":2.8,"lo":2.55,"hi":3.05},
{"g":"BIRC6","s":"ES","v":3.36,"j":2.7},{"g":"BIRC6","s":"ES","v":2.89,"j":-1.4},{"g":"BIRC6","s":"ES","v":2.89,"j":0.7},{"g":"BIRC6","s":"ES","v":2.2,"j":-1},{"g":"BIRC6","s":"ES","v":2.15,"j":1.5},{"g":"BIRC6","s":"ES","v":2.1,"j":-3},{"g":"BIRC6","s":"ES","v":2.05,"j":3},{"g":"BIRC6","s":"ES","v":2.0,"j":0},{"g":"BIRC6","s":"ES","v":1.95,"j":-2},{"g":"BIRC6","s":"ES","v":1.9,"j":2},{"g":"BIRC6","s":"ES","v":1.85,"j":-4},{"g":"BIRC6","s":"ES","v":1.8,"j":4},{"g":"BIRC6","s":"ES","v":1.75,"j":-1},{"g":"BIRC6","s":"ES","v":1.7,"j":1},{"g":"BIRC6","s":"ES","v":1.65,"j":-3},{"g":"BIRC6","s":"ES","v":1.6,"j":3},{"g":"BIRC6","s":"ES","v":1.55,"j":0},{"g":"BIRC6","s":"ES","v":1.5,"j":-2},{"g":"BIRC6","s":"ES","v":1.45,"j":2},{"g":"BIRC6","s":"ES","v":1.4,"j":-4},{"g":"BIRC6","s":"ES","v":1.35,"j":4},{"g":"BIRC6","s":"ES","v":1.3,"j":-1},{"g":"BIRC6","s":"ES","v":1.25,"j":1},{"g":"BIRC6","s":"ES","v":1.2,"j":-3},{"g":"BIRC6","s":"ES","v":1.1,"j":3},{"g":"BIRC6","s":"ES","v":1.0,"j":0},{"g":"BIRC6","s":"ES","v":0.95,"j":-2},{"g":"BIRC6","s":"ES","v":0.9,"j":2},{"g":"BIRC6","s":"ES","v":0.85,"j":-4},{"g":"BIRC6","s":"ES","v":0.8,"j":4},{"g":"BIRC6","s":"ES","v":0.75,"j":-1},{"g":"BIRC6","s":"ES","v":0.7,"j":1},{"g":"BIRC6","s":"ES","v":0.65,"j":-3},{"g":"BIRC6","s":"ES","v":0.6,"j":3},
{"g":"BIRC6","s":"SC","v":6.27,"j":0.5},{"g":"BIRC6","s":"SC","v":5.56,"j":-0.5},{"g":"BIRC6","s":"SC","v":5.24,"j":1.6},{"g":"BIRC6","s":"SC","v":4.1,"j":1},{"g":"BIRC6","s":"SC","v":3.47,"j":-0.5},{"g":"BIRC6","s":"SC","v":3.04,"j":0.7},{"g":"BIRC6","s":"SC","v":2.11,"j":0.3},
{"g":"BIRC6","s":"NS","v":3.4,"j":0},{"g":"BIRC6","s":"NS","v":1.1,"j":0},{"g":"BIRC6","s":"NS","v":0.65,"j":0},
{"g":"BIRC6","s":"ES","v":1.42,"lo":1.35,"hi":1.55},{"g":"BIRC6","s":"SC","v":4.18,"lo":3.72,"hi":4.65},{"g":"BIRC6","s":"NS","v":1.62,"lo":1.0,"hi":2.2},
{"g":"BIRC5","s":"ES","v":10.4,"j":-1.3},{"g":"BIRC5","s":"ES","v":10.0,"j":0.9},{"g":"BIRC5","s":"ES","v":6.8,"j":-2},{"g":"BIRC5","s":"ES","v":6.7,"j":1},{"g":"BIRC5","s":"ES","v":6.6,"j":3.5},{"g":"BIRC5","s":"ES","v":6.5,"j":-3.5},{"g":"BIRC5","s":"ES","v":6.4,"j":0},{"g":"BIRC5","s":"ES","v":6.3,"j":2},{"g":"BIRC5","s":"ES","v":6.2,"j":-1},{"g":"BIRC5","s":"ES","v":6.1,"j":4},{"g":"BIRC5","s":"ES","v":6.0,"j":-4},{"g":"BIRC5","s":"ES","v":5.9,"j":1.5},{"g":"BIRC5","s":"ES","v":5.8,"j":-2.5},{"g":"BIRC5","s":"ES","v":5.6,"j":3},{"g":"BIRC5","s":"ES","v":5.4,"j":-0.5},{"g":"BIRC5","s":"ES","v":5.2,"j":2},{"g":"BIRC5","s":"ES","v":5.0,"j":-3},{"g":"BIRC5","s":"ES","v":4.8,"j":0.5},{"g":"BIRC5","s":"ES","v":4.6,"j":3.5},{"g":"BIRC5","s":"ES","v":4.4,"j":-1.5},{"g":"BIRC5","s":"ES","v":4.2,"j":1},{"g":"BIRC5","s":"ES","v":4.0,"j":-2.5},{"g":"BIRC5","s":"ES","v":3.8,"j":2.5},{"g":"BIRC5","s":"ES","v":3.6,"j":-0.5},{"g":"BIRC5","s":"ES","v":3.4,"j":-2},{"g":"BIRC5","s":"ES","v":3.2,"j":1},{"g":"BIRC5","s":"ES","v":3.0,"j":-1},{"g":"BIRC5","s":"ES","v":2.8,"j":0.5},{"g":"BIRC5","s":"ES","v":2.1,"j":-1},
{"g":"BIRC5","s":"SC","v":7.57,"j":0.3},{"g":"BIRC5","s":"SC","v":7.4,"j":0.3},{"g":"BIRC5","s":"SC","v":6.2,"j":0.3},{"g":"BIRC5","s":"SC","v":5.4,"j":-1.8},{"g":"BIRC5","s":"SC","v":5.2,"j":0.3},{"g":"BIRC5","s":"SC","v":4.86,"j":2.4},{"g":"BIRC5","s":"SC","v":4.6,"j":0.5},{"g":"BIRC5","s":"SC","v":4.3,"j":2.4},{"g":"BIRC5","s":"SC","v":3.85,"j":-1.8},{"g":"BIRC5","s":"SC","v":3.7,"j":0.3},{"g":"BIRC5","s":"SC","v":2.8,"j":-1},{"g":"BIRC5","s":"SC","v":2.6,"j":1.5},{"g":"BIRC5","s":"SC","v":2.4,"j":-3},{"g":"BIRC5","s":"SC","v":2.2,"j":3},{"g":"BIRC5","s":"SC","v":2.0,"j":0},{"g":"BIRC5","s":"SC","v":1.8,"j":-2},{"g":"BIRC5","s":"SC","v":1.6,"j":2},{"g":"BIRC5","s":"SC","v":1.5,"j":-4},{"g":"BIRC5","s":"SC","v":1.4,"j":4},{"g":"BIRC5","s":"SC","v":1.3,"j":-1},{"g":"BIRC5","s":"SC","v":1.2,"j":1},{"g":"BIRC5","s":"SC","v":1.1,"j":-3},{"g":"BIRC5","s":"SC","v":1.0,"j":3},{"g":"BIRC5","s":"SC","v":0.9,"j":0},{"g":"BIRC5","s":"SC","v":0.8,"j":-2},{"g":"BIRC5","s":"SC","v":0.7,"j":2},{"g":"BIRC5","s":"SC","v":0.6,"j":-4},{"g":"BIRC5","s":"SC","v":0.5,"j":4},{"g":"BIRC5","s":"SC","v":0.4,"j":-1},{"g":"BIRC5","s":"SC","v":0.3,"j":1},
{"g":"BIRC5","s":"NS","v":2.95,"j":0.5},{"g":"BIRC5","s":"NS","v":2.0,"j":-2.7},{"g":"BIRC5","s":"NS","v":1.8,"j":-0.5},{"g":"BIRC5","s":"NS","v":1.9,"j":3.2},{"g":"BIRC5","s":"NS","v":1.2,"j":1},{"g":"BIRC5","s":"NS","v":1.0,"j":-1},{"g":"BIRC5","s":"NS","v":0.9,"j":1.5},{"g":"BIRC5","s":"NS","v":0.8,"j":-3},{"g":"BIRC5","s":"NS","v":0.7,"j":3},{"g":"BIRC5","s":"NS","v":0.6,"j":0},{"g":"BIRC5","s":"NS","v":0.5,"j":-2},{"g":"BIRC5","s":"NS","v":0.4,"j":2},{"g":"BIRC5","s":"NS","v":0.3,"j":-4},{"g":"BIRC5","s":"NS","v":0.2,"j":4},
{"g":"BIRC5","s":"ES","v":5.47,"lo":5.1,"hi":5.8},{"g":"BIRC5","s":"SC","v":2.3,"lo":2.0,"hi":2.6},{"g":"BIRC5","s":"NS","v":0.85,"lo":0.7,"hi":1.0}
]
},
"resolve": {"scale": {"fill": "independent"}, "legend": {"fill": "independent"}},
"spacing": 15,
"vconcat": [
{"spacing": -8, "vconcat": [
 {"spacing": 74, "hconcat": [
  {"spacing": -7, "hconcat": [
   {"width": 1, "height": 1, "data": {"values": [{}]}, "mark": {"type": "text", "text": ""},
    "title": {"text": "A", "anchor": "start", "frame": "group", "fontSize": 21, "fontWeight": "normal", "offset": -8, "color": "#000"}},
   {"width": 211, "height": 217, "view": {"stroke": "#9a9a9a"},
    "title": {"text": "Pro-Apoptotic genes", "fontWeight": "bold", "fontSize": 14.5, "offset": -5, "frame": "group"},
    "encoding": {
     "x": {"field": "x", "type": "quantitative", "scale": {"type": "log", "domain": [0.0001, 10], "nice": false},
      "axis": {"values": [0.0001, 0.001, 0.01, 0.1, 1, 10], "labelExpr": "(datum.value >= 1 ? '1.0E+0' : '1.0E-0') + round(abs(log(datum.value)/LN10))", "labelAngle": 90, "labelAlign": "left", "labelBaseline": "middle", "labelFontSize": 16, "labelColor": "#222", "labelFlush": false, "labelOverlap": false, "tickSize": 5, "tickColor": "#9a9a9a", "tickWidth": 1, "domainColor": "#9a9a9a", "domainWidth": 1, "labelPadding": 3, "title": "Undifferentiated", "titleFontSize": 20, "titleAnchor": "end", "titlePadding": 0, "titleColor": "#222"}},
     "y": {"field": "y", "type": "quantitative", "scale": {"type": "log", "domain": [0.0001, 10], "nice": false},
      "axis": {"values": [0.0001, 0.001, 0.01, 0.1, 1, 10], "labelExpr": "(datum.value >= 1 ? '1.0E+0' : '1.0E-0') + round(abs(log(datum.value)/LN10))", "labelFontSize": 17.5, "labelColor": "#222", "labelFlush": false, "labelOverlap": false, "tickSize": 5, "tickColor": "#9a9a9a", "tickWidth": 1, "domainColor": "#9a9a9a", "domainWidth": 1, "labelPadding": 3, "title": "Differentiated", "titleFontSize": 20, "titlePadding": 9, "titleColor": "#222"}}
    },
    "layer": [
     {"data": {"name": "a_lines"}, "mark": {"type": "line", "strokeWidth": 1.3}, "encoding": {"color": {"field": "k", "type": "nominal", "scale": {"domain": ["hi", "lo", "mid", "ext"], "range": ["#d2338e", "#d2338e", "#333333", "#d0d0d0"]}, "legend": null}, "detail": {"field": "k"}}},
     {"data": {"name": "a_pts"}, "mark": {"type": "point", "shape": "diamond", "filled": true, "color": "#1b2a8f", "size": 62, "opacity": 1}},
     {"data": {"name": "a_ell"}, "mark": {"type": "point", "shape": "M-1,0C-1,-0.169,-0.552,-0.306,0,-0.306C0.552,-0.306,1,-0.169,1,0C1,0.169,0.552,0.306,0,0.306C-0.552,0.306,-1,0.169,-1,0Z", "filled": false, "stroke": "#e0402e", "strokeWidth": 1.3, "strokeDash": [4, 3], "size": 8354, "opacity": 1}}
    ]}
  ]},
  {"spacing": 16, "hconcat": [
   {"width": 1, "height": 1, "data": {"values": [{}]}, "mark": {"type": "text", "text": ""},
    "title": {"text": "B", "anchor": "start", "frame": "group", "fontSize": 21, "fontWeight": "normal", "offset": -8, "color": "#000"}},
   {"width": 213, "height": 219, "view": {"stroke": "#9a9a9a"},
    "title": {"text": "Anti-apoptotic genes", "fontWeight": "bold", "fontSize": 14.5, "offset": -5, "frame": "group"},
    "encoding": {
     "x": {"field": "x", "type": "quantitative", "scale": {"type": "log", "domain": [0.0001, 10], "nice": false},
      "axis": {"values": [0.0001, 0.001, 0.01, 0.1, 1, 10], "labelExpr": "(datum.value >= 1 ? '1.0E+0' : '1.0E-0') + round(abs(log(datum.value)/LN10))", "labelAngle": 90, "labelAlign": "left", "labelBaseline": "middle", "labelFontSize": 16, "labelColor": "#222", "labelFlush": false, "labelOverlap": false, "tickSize": 5, "tickColor": "#9a9a9a", "tickWidth": 1, "domainColor": "#9a9a9a", "domainWidth": 1, "labelPadding": 3, "title": "Undifferentiated", "titleFontSize": 24, "titlePadding": -26, "titleColor": "#222"}},
     "y": {"field": "y", "type": "quantitative", "scale": {"type": "log", "domain": [0.0001, 10], "nice": false},
      "axis": {"values": [0.0001, 0.001, 0.01, 0.1, 1, 10], "labelExpr": "(datum.value >= 1 ? '1.0E+0' : '1.0E-0') + round(abs(log(datum.value)/LN10))", "labelFontSize": 17.5, "labelColor": "#222", "labelFlush": false, "labelOverlap": false, "tickSize": 5, "tickColor": "#9a9a9a", "tickWidth": 1, "domainColor": "#9a9a9a", "domainWidth": 1, "labelPadding": 3, "title": "Differentiated", "titleFontSize": 20, "titlePadding": 9, "titleColor": "#222"}}
    },
    "layer": [
     {"data": {"name": "b_lines"}, "mark": {"type": "line", "strokeWidth": 1.3}, "encoding": {"color": {"field": "k", "type": "nominal", "scale": {"domain": ["hi", "lo", "mid", "ext"], "range": ["#d2338e", "#d2338e", "#333333", "#d0d0d0"]}, "legend": null}, "detail": {"field": "k"}}},
     {"data": {"name": "b_pts"}, "mark": {"type": "point", "shape": "diamond", "filled": true, "color": "#1b2a8f", "size": 62, "opacity": 1}},
     {"data": {"name": "b_ell"}, "mark": {"type": "point", "shape": "M-1,0C-1,-0.337,-0.552,-0.61,0,-0.61C0.552,-0.61,1,-0.337,1,0C1,0.337,0.552,0.61,0,0.61C-0.552,0.61,-1,0.337,-1,0Z", "filled": false, "stroke": "#3f5fd8", "strokeWidth": 1.3, "strokeDash": [4, 3], "size": 5086, "opacity": 1}}
    ]}
  ]}
 ]},
 {"spacing": -9, "hconcat": [
  {"width": 1, "height": 1, "data": {"values": [{}]}, "mark": {"type": "text", "text": ""},
   "title": {"text": "C", "anchor": "start", "frame": "group", "fontSize": 21, "fontWeight": "normal", "offset": 6, "color": "#000"}},
  {"columns": 4, "align": "each", "spacing": {"row": 25, "column": 20}, "concat": [
    {"width": 146, "height": 123, "title": "BCL10", "data": {"name": "c"}, "transform": [{"filter": "datum.g === 'BCL10'"}],
     "encoding": {"x": {"field": "s", "type": "nominal", "scale": {"type": "band", "domain": ["ES", "SC", "NS"], "paddingInner": 0.5, "paddingOuter": 0.25}, "axis": {"title": null}},
      "y": {"field": "v", "type": "quantitative", "scale": {"domain": [0, 3]}, "axis": {"title": "Relative expression level", "values": [0, 1, 2, 3]}}},
     "layer": [
      {"transform": [{"filter": "!isValid(datum.lo)"}], "mark": {"type": "point", "filled": false, "size": 22, "strokeWidth": 1.1, "color": "#333", "opacity": 1}, "encoding": {"xOffset": {"field": "j", "type": "quantitative", "scale": {"domain": [-4, 4]}}, "shape": {"field": "s", "type": "nominal", "scale": {"domain": ["ES", "SC", "NS"], "range": ["circle", "square", "triangle-down"]}, "legend": null}}},
      {"transform": [{"filter": "isValid(datum.lo)"}], "mark": {"type": "tick", "color": "#e8433a", "size": 23, "thickness": 1.6}, "encoding": {}},
      {"transform": [{"filter": "isValid(datum.lo)"}], "mark": {"type": "errorbar", "color": "#e8433a", "thickness": 1.5, "ticks": {"size": 14, "thickness": 1.5, "color": "#e8433a"}}, "encoding": {"y": {"field": "lo", "type": "quantitative"}, "y2": {"field": "hi"}}}
     ]},
    {"width": 146, "height": 123, "title": "BCL2L2", "data": {"name": "c"}, "transform": [{"filter": "datum.g === 'BCL2L2'"}],
     "encoding": {"x": {"field": "s", "type": "nominal", "scale": {"type": "band", "domain": ["ES", "SC", "NS"], "paddingInner": 0.5, "paddingOuter": 0.25}, "axis": {"title": null}},
      "y": {"field": "v", "type": "quantitative", "scale": {"domain": [0, 5]}, "axis": {"title": "Relative expression level", "values": [0, 1, 2, 3, 4, 5]}}},
     "layer": [
      {"transform": [{"filter": "!isValid(datum.lo)"}], "mark": {"type": "point", "filled": false, "size": 22, "strokeWidth": 1.1, "color": "#333", "opacity": 1}, "encoding": {"xOffset": {"field": "j", "type": "quantitative", "scale": {"domain": [-4, 4]}}, "shape": {"field": "s", "type": "nominal", "scale": {"domain": ["ES", "SC", "NS"], "range": ["circle", "square", "triangle-down"]}, "legend": null}}},
      {"transform": [{"filter": "isValid(datum.lo)"}], "mark": {"type": "tick", "color": "#e8433a", "size": 23, "thickness": 1.6}, "encoding": {}},
      {"transform": [{"filter": "isValid(datum.lo)"}], "mark": {"type": "errorbar", "color": "#e8433a", "thickness": 1.5, "ticks": {"size": 14, "thickness": 1.5, "color": "#e8433a"}}, "encoding": {"y": {"field": "lo", "type": "quantitative"}, "y2": {"field": "hi"}}}
     ]},
    {"width": 146, "height": 123, "title": "BRAF", "data": {"name": "c"}, "transform": [{"filter": "datum.g === 'BRAF'"}],
     "encoding": {"x": {"field": "s", "type": "nominal", "scale": {"type": "band", "domain": ["ES", "SC", "NS"], "paddingInner": 0.5, "paddingOuter": 0.25}, "axis": {"title": null}},
      "y": {"field": "v", "type": "quantitative", "scale": {"domain": [0, 4]}, "axis": {"title": "Relative Expression level", "values": [0, 1, 2, 3, 4]}}},
     "layer": [
      {"transform": [{"filter": "!isValid(datum.lo)"}], "mark": {"type": "point", "filled": false, "size": 22, "strokeWidth": 1.1, "color": "#333", "opacity": 1}, "encoding": {"xOffset": {"field": "j", "type": "quantitative", "scale": {"domain": [-4, 4]}}, "shape": {"field": "s", "type": "nominal", "scale": {"domain": ["ES", "SC", "NS"], "range": ["circle", "square", "triangle-down"]}, "legend": null}}},
      {"transform": [{"filter": "isValid(datum.lo)"}], "mark": {"type": "tick", "color": "#e8433a", "size": 23, "thickness": 1.6}, "encoding": {}},
      {"transform": [{"filter": "isValid(datum.lo)"}], "mark": {"type": "errorbar", "color": "#e8433a", "thickness": 1.5, "ticks": {"size": 14, "thickness": 1.5, "color": "#e8433a"}}, "encoding": {"y": {"field": "lo", "type": "quantitative"}, "y2": {"field": "hi"}}}
     ]},
    {"width": 146, "height": 123, "title": "BAG1", "data": {"name": "c"}, "transform": [{"filter": "datum.g === 'BAG1'"}],
     "encoding": {"x": {"field": "s", "type": "nominal", "scale": {"type": "band", "domain": ["ES", "SC", "NS"], "paddingInner": 0.5, "paddingOuter": 0.25}, "axis": {"title": null}},
      "y": {"field": "v", "type": "quantitative", "scale": {"domain": [0, 15]}, "axis": {"title": "Relative expression level", "values": [0, 5, 10, 15]}}},
     "layer": [
      {"transform": [{"filter": "!isValid(datum.lo)"}], "mark": {"type": "point", "filled": false, "size": 22, "strokeWidth": 1.1, "color": "#333", "opacity": 1}, "encoding": {"xOffset": {"field": "j", "type": "quantitative", "scale": {"domain": [-4, 4]}}, "shape": {"field": "s", "type": "nominal", "scale": {"domain": ["ES", "SC", "NS"], "range": ["circle", "square", "triangle-down"]}, "legend": null}}},
      {"transform": [{"filter": "isValid(datum.lo)"}], "mark": {"type": "tick", "color": "#e8433a", "size": 23, "thickness": 1.6}, "encoding": {}},
      {"transform": [{"filter": "isValid(datum.lo)"}], "mark": {"type": "errorbar", "color": "#e8433a", "thickness": 1.5, "ticks": {"size": 14, "thickness": 1.5, "color": "#e8433a"}}, "encoding": {"y": {"field": "lo", "type": "quantitative"}, "y2": {"field": "hi"}}}
     ]},
    {"width": 146, "height": 123, "title": "DFFA", "data": {"name": "c"}, "transform": [{"filter": "datum.g === 'DFFA'"}],
     "encoding": {"x": {"field": "s", "type": "nominal", "scale": {"type": "band", "domain": ["ES", "SC", "NS"], "paddingInner": 0.5, "paddingOuter": 0.25}, "axis": {"title": null}},
      "y": {"field": "v", "type": "quantitative", "scale": {"domain": [0, 4]}, "axis": {"title": "Relative expression level", "values": [0, 1, 2, 3, 4]}}},
     "layer": [
      {"transform": [{"filter": "!isValid(datum.lo)"}], "mark": {"type": "point", "filled": false, "size": 22, "strokeWidth": 1.1, "color": "#333", "opacity": 1}, "encoding": {"xOffset": {"field": "j", "type": "quantitative", "scale": {"domain": [-4, 4]}}, "shape": {"field": "s", "type": "nominal", "scale": {"domain": ["ES", "SC", "NS"], "range": ["circle", "square", "triangle-down"]}, "legend": null}}},
      {"transform": [{"filter": "isValid(datum.lo)"}], "mark": {"type": "tick", "color": "#e8433a", "size": 23, "thickness": 1.6}, "encoding": {}},
      {"transform": [{"filter": "isValid(datum.lo)"}], "mark": {"type": "errorbar", "color": "#e8433a", "thickness": 1.5, "ticks": {"size": 14, "thickness": 1.5, "color": "#e8433a"}}, "encoding": {"y": {"field": "lo", "type": "quantitative"}, "y2": {"field": "hi"}}}
     ]},
    {"width": 146, "height": 123, "title": "BAG4", "data": {"name": "c"}, "transform": [{"filter": "datum.g === 'BAG4'"}],
     "encoding": {"x": {"field": "s", "type": "nominal", "scale": {"type": "band", "domain": ["ES", "SC", "NS"], "paddingInner": 0.5, "paddingOuter": 0.25}, "axis": {"title": null}},
      "y": {"field": "v", "type": "quantitative", "scale": {"domain": [0, 8]}, "axis": {"title": "Relative expression level", "values": [0, 2, 4, 6, 8]}}},
     "layer": [
      {"transform": [{"filter": "!isValid(datum.lo)"}], "mark": {"type": "point", "filled": false, "size": 22, "strokeWidth": 1.1, "color": "#333", "opacity": 1}, "encoding": {"xOffset": {"field": "j", "type": "quantitative", "scale": {"domain": [-4, 4]}}, "shape": {"field": "s", "type": "nominal", "scale": {"domain": ["ES", "SC", "NS"], "range": ["circle", "square", "triangle-down"]}, "legend": null}}},
      {"transform": [{"filter": "isValid(datum.lo)"}], "mark": {"type": "tick", "color": "#e8433a", "size": 23, "thickness": 1.6}, "encoding": {}},
      {"transform": [{"filter": "isValid(datum.lo)"}], "mark": {"type": "errorbar", "color": "#e8433a", "thickness": 1.5, "ticks": {"size": 14, "thickness": 1.5, "color": "#e8433a"}}, "encoding": {"y": {"field": "lo", "type": "quantitative"}, "y2": {"field": "hi"}}}
     ]},
    {"width": 146, "height": 123, "title": "MCL1", "data": {"name": "c"}, "transform": [{"filter": "datum.g === 'MCL1'"}],
     "encoding": {"x": {"field": "s", "type": "nominal", "scale": {"type": "band", "domain": ["ES", "SC", "NS"], "paddingInner": 0.5, "paddingOuter": 0.25}, "axis": {"title": null}},
      "y": {"field": "v", "type": "quantitative", "scale": {"domain": [0, 8]}, "axis": {"title": "Relative expression level", "values": [0, 2, 4, 6, 8]}}},
     "layer": [
      {"transform": [{"filter": "!isValid(datum.lo)"}], "mark": {"type": "point", "filled": false, "size": 22, "strokeWidth": 1.1, "color": "#333", "opacity": 1}, "encoding": {"xOffset": {"field": "j", "type": "quantitative", "scale": {"domain": [-4, 4]}}, "shape": {"field": "s", "type": "nominal", "scale": {"domain": ["ES", "SC", "NS"], "range": ["circle", "square", "triangle-down"]}, "legend": null}}},
      {"transform": [{"filter": "isValid(datum.lo)"}], "mark": {"type": "tick", "color": "#e8433a", "size": 23, "thickness": 1.6}, "encoding": {}},
      {"transform": [{"filter": "isValid(datum.lo)"}], "mark": {"type": "errorbar", "color": "#e8433a", "thickness": 1.5, "ticks": {"size": 14, "thickness": 1.5, "color": "#e8433a"}}, "encoding": {"y": {"field": "lo", "type": "quantitative"}, "y2": {"field": "hi"}}}
     ]},
    {"width": 146, "height": 123, "title": "BFAR", "data": {"name": "c"}, "transform": [{"filter": "datum.g === 'BFAR'"}],
     "encoding": {"x": {"field": "s", "type": "nominal", "scale": {"type": "band", "domain": ["ES", "SC", "NS"], "paddingInner": 0.5, "paddingOuter": 0.25}, "axis": {"title": null}},
      "y": {"field": "v", "type": "quantitative", "scale": {"domain": [0, 4]}, "axis": {"title": "Relative expression level", "values": [0, 1, 2, 3, 4]}}},
     "layer": [
      {"transform": [{"filter": "!isValid(datum.lo)"}], "mark": {"type": "point", "filled": false, "size": 22, "strokeWidth": 1.1, "color": "#333", "opacity": 1}, "encoding": {"xOffset": {"field": "j", "type": "quantitative", "scale": {"domain": [-4, 4]}}, "shape": {"field": "s", "type": "nominal", "scale": {"domain": ["ES", "SC", "NS"], "range": ["circle", "square", "triangle-down"]}, "legend": null}}},
      {"transform": [{"filter": "isValid(datum.lo)"}], "mark": {"type": "tick", "color": "#e8433a", "size": 23, "thickness": 1.6}, "encoding": {}},
      {"transform": [{"filter": "isValid(datum.lo)"}], "mark": {"type": "errorbar", "color": "#e8433a", "thickness": 1.5, "ticks": {"size": 14, "thickness": 1.5, "color": "#e8433a"}}, "encoding": {"y": {"field": "lo", "type": "quantitative"}, "y2": {"field": "hi"}}}
     ]},
    {"width": 146, "height": 123, "title": "BCL2", "data": {"name": "c"}, "transform": [{"filter": "datum.g === 'BCL2'"}],
     "encoding": {"x": {"field": "s", "type": "nominal", "scale": {"type": "band", "domain": ["ES", "SC", "NS"], "paddingInner": 0.5, "paddingOuter": 0.25}, "axis": {"title": null}},
      "y": {"field": "v", "type": "quantitative", "scale": {"domain": [0, 10]}, "axis": {"title": "Relative Expression level", "values": [0, 2, 4, 6, 8, 10]}}},
     "layer": [
      {"transform": [{"filter": "!isValid(datum.lo)"}], "mark": {"type": "point", "filled": false, "size": 22, "strokeWidth": 1.1, "color": "#333", "opacity": 1}, "encoding": {"xOffset": {"field": "j", "type": "quantitative", "scale": {"domain": [-4, 4]}}, "shape": {"field": "s", "type": "nominal", "scale": {"domain": ["ES", "SC", "NS"], "range": ["circle", "square", "triangle-down"]}, "legend": null}}},
      {"transform": [{"filter": "isValid(datum.lo)"}], "mark": {"type": "tick", "color": "#e8433a", "size": 23, "thickness": 1.6}, "encoding": {}},
      {"transform": [{"filter": "isValid(datum.lo)"}], "mark": {"type": "errorbar", "color": "#e8433a", "thickness": 1.5, "ticks": {"size": 14, "thickness": 1.5, "color": "#e8433a"}}, "encoding": {"y": {"field": "lo", "type": "quantitative"}, "y2": {"field": "hi"}}}
     ]},
    {"width": 146, "height": 123, "title": "BIRC6", "data": {"name": "c"}, "transform": [{"filter": "datum.g === 'BIRC6'"}],
     "encoding": {"x": {"field": "s", "type": "nominal", "scale": {"type": "band", "domain": ["ES", "SC", "NS"], "paddingInner": 0.5, "paddingOuter": 0.25}, "axis": {"title": null}},
      "y": {"field": "v", "type": "quantitative", "scale": {"domain": [0, 8]}, "axis": {"title": "Relative expression level", "values": [0, 2, 4, 6, 8]}}},
     "layer": [
      {"transform": [{"filter": "!isValid(datum.lo)"}], "mark": {"type": "point", "filled": false, "size": 22, "strokeWidth": 1.1, "color": "#333", "opacity": 1}, "encoding": {"xOffset": {"field": "j", "type": "quantitative", "scale": {"domain": [-4, 4]}}, "shape": {"field": "s", "type": "nominal", "scale": {"domain": ["ES", "SC", "NS"], "range": ["circle", "square", "triangle-down"]}, "legend": null}}},
      {"transform": [{"filter": "isValid(datum.lo)"}], "mark": {"type": "tick", "color": "#e8433a", "size": 23, "thickness": 1.6}, "encoding": {}},
      {"transform": [{"filter": "isValid(datum.lo)"}], "mark": {"type": "errorbar", "color": "#e8433a", "thickness": 1.5, "ticks": {"size": 14, "thickness": 1.5, "color": "#e8433a"}}, "encoding": {"y": {"field": "lo", "type": "quantitative"}, "y2": {"field": "hi"}}}
     ]},
    {"width": 146, "height": 123, "title": "BIRC5", "data": {"name": "c"}, "transform": [{"filter": "datum.g === 'BIRC5'"}],
     "encoding": {"x": {"field": "s", "type": "nominal", "scale": {"type": "band", "domain": ["ES", "SC", "NS"], "paddingInner": 0.5, "paddingOuter": 0.25}, "axis": {"title": null}},
      "y": {"field": "v", "type": "quantitative", "scale": {"domain": [0, 15]}, "axis": {"title": "Relative expression level", "values": [0, 5, 10, 15]}}},
     "layer": [
      {"transform": [{"filter": "!isValid(datum.lo)"}], "mark": {"type": "point", "filled": false, "size": 22, "strokeWidth": 1.1, "color": "#333", "opacity": 1}, "encoding": {"xOffset": {"field": "j", "type": "quantitative", "scale": {"domain": [-4, 4]}}, "shape": {"field": "s", "type": "nominal", "scale": {"domain": ["ES", "SC", "NS"], "range": ["circle", "square", "triangle-down"]}, "legend": null}}},
      {"transform": [{"filter": "isValid(datum.lo)"}], "mark": {"type": "tick", "color": "#e8433a", "size": 23, "thickness": 1.6}, "encoding": {}},
      {"transform": [{"filter": "isValid(datum.lo)"}], "mark": {"type": "errorbar", "color": "#e8433a", "thickness": 1.5, "ticks": {"size": 14, "thickness": 1.5, "color": "#e8433a"}}, "encoding": {"y": {"field": "lo", "type": "quantitative"}, "y2": {"field": "hi"}}}
     ]}
  ]}
 ]}
]},
{"spacing": 16, "resolve": {"scale": {"fill": "independent"}, "legend": {"fill": "independent"}}, "hconcat": [
 {"width": 1, "height": 1, "data": {"values": [{}]}, "mark": {"type": "text", "text": ""},
  "title": {"text": "D", "anchor": "start", "frame": "group", "fontSize": 21, "fontWeight": "normal", "offset": -17, "color": "#000"}},
 {"width": 332, "height": 179, "data": {"name": "d"},
  "mark": {"type": "bar", "stroke": "#000", "strokeWidth": 1.5},
  "encoding": {
   "x": {"field": "gene", "type": "nominal", "scale": {"domain": ["OCT4", "NANOG", "BIRC5", "BCL10"], "paddingInner": 0.19, "paddingOuter": 0.095}, "axis": {"title": null, "labelFontSize": 13, "labelColor": "#111", "tickSize": 5, "labelPadding": 4, "domainWidth": 2}},
   "xOffset": {"field": "cell", "type": "nominal", "scale": {"domain": ["ESC", "EB", "NP", "ND"], "paddingInner": 0.33}},
   "y": {"field": "val", "type": "quantitative", "scale": {"domain": [0, 120]}, "axis": {"values": [0, 50, 100], "title": "Relative expression level", "titleFontSize": 14, "titleColor": "#111", "labelFontSize": 13, "labelColor": "#111", "tickSize": 4, "labelPadding": 2, "domainWidth": 2, "titlePadding": 18}},
   "fill": {"field": "cell", "type": "nominal", "scale": {"domain": ["ESC", "EB", "NP", "ND"], "range": ["#ffffff", "#d6d6d6", "#7b7b7b", "#000000"]},
    "legend": {"title": null, "orient": "right", "offset": -53, "padding": 19, "symbolType": "M-1,-0.6H1V0.6H-1Z", "symbolSize": 484, "symbolStrokeColor": "#000", "symbolStrokeWidth": 2, "symbolOpacity": 1, "labelFontSize": 15, "labelColor": "#111", "labelOffset": 5, "rowPadding": -3}}
  }}
]}
],
"config": {
 "font": "Liberation Sans",
 "view": {"stroke": null},
 "title": {"fontSize": 14.5, "fontWeight": "normal", "frame": "group", "offset": -12.5, "color": "#111"},
 "axis": {"grid": false, "domainColor": "#111", "tickColor": "#111", "labelColor": "#333", "titleColor": "#333", "titleFontWeight": "normal"},
 "axisX": {"labelAngle": 0, "labelFontSize": 14, "labelColor": "#111", "tickSize": 4, "domainWidth": 1.5, "tickWidth": 1.2, "labelPadding": 8},
 "axisY": {"labelFontSize": 7, "tickSize": 3, "domainWidth": 1.5, "tickWidth": 1, "titleFontSize": 8.5, "titlePadding": 12, "labelPadding": 1}
}
}
